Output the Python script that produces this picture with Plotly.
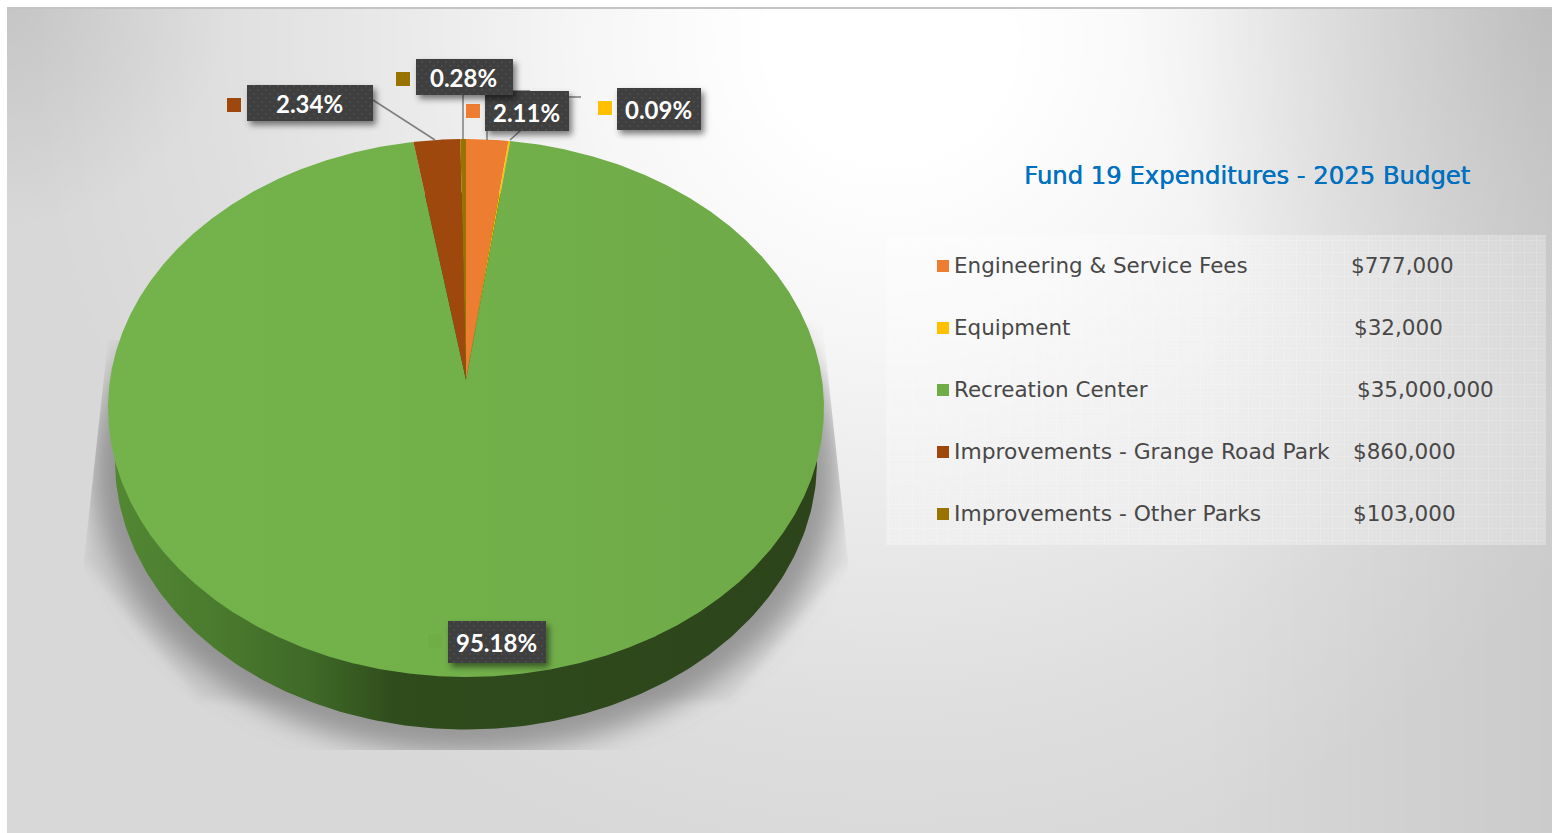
import base64
import numpy as np
import plotly.graph_objects as go

# ---- data ----
categories = ["Engineering & Service Fees", "Equipment", "Recreation Center",
              "Improvements - Grange Road Park", "Improvements - Other Parks"]
amounts = [777000, 32000, 35000000, 860000, 103000]
colors = ["#ED7D31", "#FFC000", "#70AD47", "#9E480E", "#997300"]
title_text = "Fund 19 Expenditures - 2025 Budget"

# ---- geometry of the canvas (pixel space) ----
W, H = 1552, 833
CX, CY, RX, RY = 466.0, 408.0, 358.0, 269.0   # top face ellipse
AX, AY = 466.0, 380.0                         # perspective apex
BCY, BRX, BRY = 461.0, 351.0, 268.5           # bottom rim ellipse
total = sum(amounts)
pcts = [a / total * 100 for a in amounts]


def rim_point(theta):
    dx, dy = np.sin(theta) * RX, -np.cos(theta) * RY
    ox, oy = (AX - CX) / RX, (AY - CY) / RY
    ux, uy = dx / RX, dy / RY
    a = ux * ux + uy * uy
    b = 2 * (ox * ux + oy * uy)
    c = ox * ox + oy * oy - 1
    t = (-b + np.sqrt(b * b - 4 * a * c)) / (2 * a)
    return AX + t * dx, AY + t * dy


def slice_path(start, stop):
    n = max(3, int((stop - start) * 200))
    pts = [rim_point(t) for t in np.linspace(start, stop, n)]
    xs = [AX] + [p[0] for p in pts] + [AX]
    ys = [AY] + [p[1] for p in pts] + [AY]
    return xs, ys


# ---- background and overlay artwork ----
def uri(svg):
    return "data:image/svg+xml;base64," + base64.b64encode(svg.encode()).decode()


bg_svg = f"""<svg xmlns="http://www.w3.org/2000/svg" width="{W}" height="{H}" viewBox="0 0 {W} {H}">
<defs>
<radialGradient id="g" gradientUnits="userSpaceOnUse" cx="0" cy="0" r="1"
 gradientTransform="translate(890 40) scale(860 850)">
<stop offset="0" stop-color="#fff" stop-opacity="1"/><stop offset="0.14" stop-color="#fff" stop-opacity="1"/>
<stop offset="0.35" stop-color="#fff" stop-opacity="0.78"/><stop offset="0.55" stop-color="#fff" stop-opacity="0.48"/>
<stop offset="0.8" stop-color="#fff" stop-opacity="0.16"/><stop offset="1" stop-color="#fff" stop-opacity="0"/></radialGradient>
<radialGradient id="tl" gradientUnits="userSpaceOnUse" cx="0" cy="0" r="230">
<stop offset="0" stop-color="#000" stop-opacity="0.09"/><stop offset="1" stop-color="#000" stop-opacity="0"/></radialGradient>
<radialGradient id="tr" gradientUnits="userSpaceOnUse" cx="1552" cy="0" r="420">
<stop offset="0" stop-color="#000" stop-opacity="0.1"/><stop offset="1" stop-color="#000" stop-opacity="0"/></radialGradient>
<linearGradient id="rs" gradientUnits="userSpaceOnUse" x1="1200" y1="0" x2="1552" y2="0">
<stop offset="0" stop-color="#000" stop-opacity="0"/><stop offset="1" stop-color="#000" stop-opacity="0.06"/></linearGradient>
<linearGradient id="wedge" gradientUnits="userSpaceOnUse" x1="0" y1="320" x2="0" y2="560">
<stop offset="0" stop-color="#000" stop-opacity="0"/><stop offset="1" stop-color="#000" stop-opacity="0.055"/></linearGradient>
<pattern id="grid" width="12" height="12" patternUnits="userSpaceOnUse">
<rect width="12" height="12" fill="#ffffff" fill-opacity="0.26"/>
<rect x="0" y="0" width="12" height="1" fill="#ffffff" fill-opacity="0.18"/>
<rect x="0" y="1" width="1" height="11" fill="#ffffff" fill-opacity="0.18"/>
<rect x="3" y="3" width="2" height="2" fill="#ffffff" fill-opacity="0.1"/>
<rect x="7" y="3" width="2" height="2" fill="#ffffff" fill-opacity="0.1"/>
<rect x="3" y="7" width="2" height="2" fill="#ffffff" fill-opacity="0.1"/>
<rect x="7" y="7" width="2" height="2" fill="#ffffff" fill-opacity="0.1"/>
</pattern>
<filter id="b" x="-20%" y="-20%" width="140%" height="140%"><feGaussianBlur stdDeviation="13"/></filter>
<filter id="w" x="-20%" y="-20%" width="140%" height="140%"><feGaussianBlur stdDeviation="4"/></filter>
<clipPath id="c"><polygon points="108,340 84,560 84,750 848,750 848,560 822,320"/></clipPath>
</defs>
<rect width="{W}" height="{H}" fill="#ffffff"/>
<rect x="7" y="7" width="{W-7}" height="{H-7}" fill="#d8d8d8"/>
<rect x="7" y="7" width="{W-7}" height="{H-7}" fill="url(#g)"/>
<rect x="7" y="7" width="{W-7}" height="{H-7}" fill="url(#tl)"/>
<rect x="7" y="7" width="{W-7}" height="{H-7}" fill="url(#tr)"/>
<rect x="7" y="7" width="{W-7}" height="{H-7}" fill="url(#rs)"/>
<rect x="7" y="7" width="{W-7}" height="2" fill="#c4c4c4"/>
<rect x="886" y="235" width="660" height="310" fill="url(#grid)"/>
<g clip-path="url(#c)">
<polygon points="108,340 84,560 200,700 730,700 848,560 822,320" fill="url(#wedge)" filter="url(#w)"/>
<ellipse cx="466" cy="470" rx="372" ry="283" fill="#757575" fill-opacity="0.66" filter="url(#b)"/>
</g>
</svg>"""

boxes = [  # x0, y0, x1, y1 in drawing order
    (485, 91, 569, 131), (617, 88, 701, 130), (247, 85, 373, 121),
    (416, 59, 513, 95), (448, 621, 546, 663)]
rects = "".join(
    f'<rect x="{a+3}" y="{b+4}" width="{c-a}" height="{d-b}" fill="#000" fill-opacity="0.5" filter="url(#s)"/>'
    f'<rect x="{a}" y="{b}" width="{c-a}" height="{d-b}" fill="url(#dots)"/>'
    for a, b, c, d in boxes)
over_svg = f"""<svg xmlns="http://www.w3.org/2000/svg" width="{W}" height="{H}" viewBox="0 0 {W} {H}">
<defs>
<pattern id="dots" width="8" height="8" patternUnits="userSpaceOnUse">
<rect width="8" height="8" fill="#3f3f3f"/>
<rect x="1" y="1" width="2" height="2" fill="#4a4a4a"/>
<rect x="5" y="5" width="2" height="2" fill="#4a4a4a"/>
</pattern>
<filter id="s" x="-20%" y="-30%" width="140%" height="160%"><feGaussianBlur stdDeviation="3"/></filter>
</defs>{rects}</svg>"""

fig = go.Figure()

# wall of the disc
th = np.linspace(0, 2 * np.pi, 361)
fig.add_trace(go.Scatter(
    x=CX + BRX * np.sin(th), y=BCY + BRY * np.cos(th), mode="lines",
    line=dict(width=0), fill="toself", hoverinfo="skip", showlegend=False,
    fillgradient=dict(type="horizontal", colorscale=[
        [0, "#528733"], [0.15, "#4a7a2e"], [0.28, "#3f6927"], [0.4, "#2f4c1c"], [1, "#2d441b"]])))

# slices
cum = 0.0
for name, pct, col in zip(categories, pcts, colors):
    start = cum / 100 * 2 * np.pi
    cum += pct
    stop = cum / 100 * 2 * np.pi
    xs, ys = slice_path(start, stop)
    kw = dict(fillcolor=col)
    if pct > 50:
        kw = dict(fillgradient=dict(type="horizontal", colorscale=[
            [0, "#74b34b"], [0.5, "#72b04a"], [1, "#6eaa48"]]))
    fig.add_trace(go.Scatter(x=xs, y=ys, mode="lines", line=dict(width=0, color=col),
                             fill="toself", name=name, text=name, hoverinfo="text",
                             showlegend=False, **kw))

# leader lines
leaders = [([373, 435], [100, 140]), ([463, 463], [95, 139]),
           ([487, 487, 530], [140, 91, 91]), ([510, 530, 569, 581], [140, 122, 97, 97])]
for lx, ly in leaders:
    fig.add_trace(go.Scatter(x=lx, y=ly, mode="lines", line=dict(color="#7f7f7f", width=1.5),
                             hoverinfo="skip", showlegend=False))

# data-label keys and legend keys
label_pos = [(526.4, 112), (658.8, 109), (496.4, 642), (309.3, 103), (463.3, 77)]
key_pos = [(473, 111), (605, 108), (435, 641), (234, 105), (403, 79)]
fig.add_trace(go.Scatter(x=[p[0] for p in key_pos], y=[p[1] for p in key_pos], mode="markers",
                         marker=dict(symbol="square", size=14, color=colors, line=dict(width=0)),
                         hoverinfo="skip", showlegend=False))
leg_y = [266, 328, 390, 452, 514]
leg_size = [21.45, 21.45, 21.45, 21.8, 21.8]
fig.add_trace(go.Scatter(x=[943] * 5, y=leg_y, mode="markers",
                         marker=dict(symbol="square", size=12, color=colors, line=dict(width=0)),
                         hoverinfo="skip", showlegend=False))

ann = []
for p, (x, y) in zip(pcts, label_pos):
    ann.append(dict(x=x, y=y, text=f"<b>{p:.2f}%</b>", showarrow=False,
                    font=dict(family="Lato", size=24, color="#ffffff")))
amt_x = [1351, 1354, 1357, 1353, 1353]
for name, a, y, ax, fs in zip(categories, amounts, leg_y, amt_x, leg_size):
    ann.append(dict(x=954, y=y - 1, text=name.replace("&", "&amp;"), showarrow=False, xanchor="left",
                    font=dict(family="DejaVu Sans", size=fs, color="#484848")))
    ann.append(dict(x=ax, y=y - 1, text=f"${a:,}", showarrow=False, xanchor="left",
                    font=dict(family="DejaVu Sans", size=21.5, color="#484848")))
ann.append(dict(x=1247, y=175.5, text=title_text, showarrow=False,
                font=dict(family="DejaVu Sans", size=24.3, color="#0070C0",
                          shadow="0.5px 0 0 #0070C0")))
for a in ann:
    a.update(xref="x", yref="y", borderpad=0, borderwidth=0)

fig.update_layout(
    width=W, height=H, margin=dict(l=0, r=0, t=0, b=0),
    paper_bgcolor="#ffffff", plot_bgcolor="rgba(0,0,0,0)", showlegend=False,
    xaxis=dict(range=[0, W], visible=False, fixedrange=True),
    yaxis=dict(range=[H, 0], visible=False, fixedrange=True),
    annotations=ann,
    images=[
        dict(source=uri(bg_svg), xref="paper", yref="paper", x=0, y=1, sizex=1, sizey=1,
             xanchor="left", yanchor="top", sizing="stretch", layer="below"),
        dict(source=uri(over_svg), xref="paper", yref="paper", x=0, y=1, sizex=1, sizey=1,
             xanchor="left", yanchor="top", sizing="stretch", layer="above"),
    ],
)
fig.write_html("out.html", config={"displayModeBar": False},
               post_script="document.body.style.margin='0';document.body.style.overflow='hidden';")
